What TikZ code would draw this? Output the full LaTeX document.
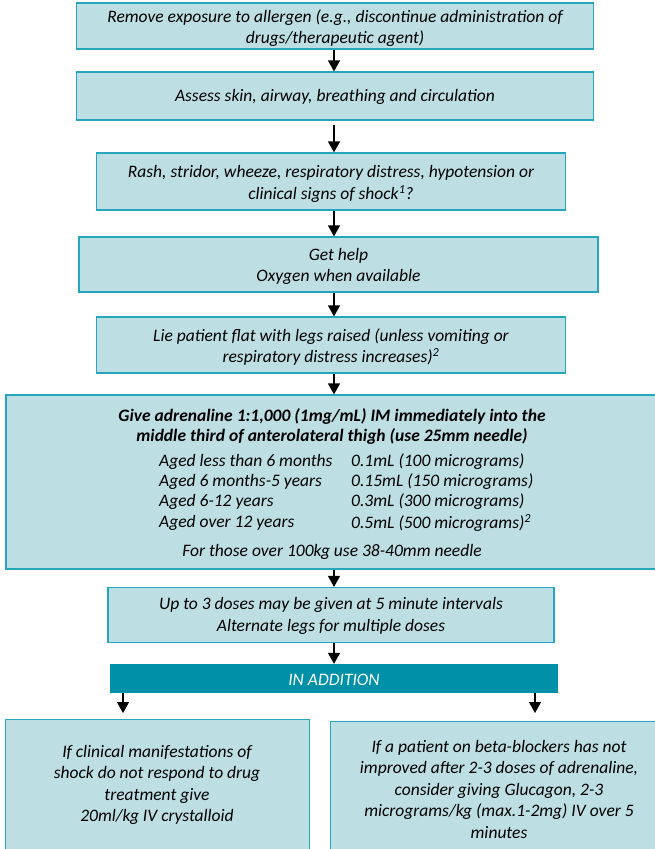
\documentclass[tikz,border=0pt]{standalone}
\usepackage{fontspec}
\setmainfont{Carlito}
\usetikzlibrary{arrows.meta,positioning,calc}
\definecolor{boxfill}{HTML}{BDDEE3}
\definecolor{boxline}{HTML}{25A6BD}
\definecolor{barfill}{HTML}{0090A8}
\tikzset{
  stepbox/.style={rectangle, draw=boxline, line width=1.2pt, fill=boxfill, inner sep=0pt},
  txt/.style={align=center, font=\fontsize{17.5}{21.5}\selectfont\itshape, inner sep=0pt},
  arr/.style={-{Triangle[width=12pt,length=11pt]}, line width=1.3pt, draw=black},
}
\begin{document}
\begin{tikzpicture}[x=1pt, y=-1pt]
\useasboundingbox (0,0) rectangle (655,849);
\coordinate (axis) at (334,0);
% main column
\node[stepbox, minimum width=517pt, minimum height=46pt] (b1) at (335,26) {};
\node[txt] at (335,28) {Remove exposure to allergen (e.g., discontinue administration of\\drugs/therapeutic agent)};
\node[stepbox, minimum width=517pt, minimum height=48pt] (b2) at (335,96) {};
\node[txt] at (335,97) {Assess skin, airway, breathing and circulation};
\node[stepbox, minimum width=469pt, minimum height=57pt] (b3) at (331,181.5) {};
\node[txt] at (331,184) {Rash, stridor, wheeze, respiratory distress, hypotension or\\clinical signs of shock\textsuperscript{1}?};
\node[stepbox, minimum width=519pt, minimum height=55pt] (b4) at (338.5,264.5) {};
\node[txt] at (338.5,266.5) {Get help\\Oxygen when available};
\node[stepbox, minimum width=469pt, minimum height=56pt] (b5) at (331,345) {};
\node[txt] at (331,347) {Lie patient flat with legs raised (unless vomiting or\\respiratory distress increases)\textsuperscript{2}};
% adrenaline box, runs past the right edge
\node[stepbox, minimum width=664pt, minimum height=174pt] (b6) at (338,482) {};
\node[txt, font=\fontsize{17.5}{20}\selectfont\bfseries\itshape] at (332,426) {Give adrenaline 1:1,000 (1mg/mL) IM immediately into the\\middle third of anterolateral thigh (use 25mm needle)};
\foreach \age/\dose/\yy in {Aged less than 6 months/0.1mL (100 micrograms)/462,
    Aged 6 months-5 years/0.15mL (150 micrograms)/482,
    Aged 6-12 years/0.3mL (300 micrograms)/502,
    Aged over 12 years/0.5mL (500 micrograms)\textsuperscript{2}/523}{
  \node[txt, anchor=west] at (159,\yy) {\age};
  \node[txt, anchor=west] at (351,\yy) {\dose};
}
\node[txt] at (332,552) {For those over 100kg use 38-40mm needle};
\node[stepbox, minimum width=446pt, minimum height=55pt] (b7) at (331,615) {};
\node[txt] at (331,616) {Up to 3 doses may be given at 5 minute intervals\\Alternate legs for multiple doses};
\node[rectangle, fill=barfill, minimum width=448pt, minimum height=29pt, inner sep=0pt] (addn) at (334,678.5) {};
\node[txt, text=white] at (334,680) {IN ADDITION};
% two branches
\node[stepbox, minimum width=304pt, minimum height=150pt, anchor=north west] (left) at (5,719) {};
\node[txt] at (157,785) {If clinical manifestations of\\shock do not respond to drug\\treatment give\\20ml/kg IV crystalloid};
\node[stepbox, minimum width=345pt, minimum height=150pt, anchor=north west] (right) at (330,721) {};
\node[txt] at (499,789) {If a patient on beta-blockers has not\\improved after 2-3 doses of adrenaline,\\consider giving Glucagon, 2-3\\micrograms/kg (max.1-2mg) IV over 5\\minutes};
\coordinate (lefttip) at (123,713);
\coordinate (righttip) at (535,713);
% arrows
\draw[arr] (b1.south -| axis) -- (b2.north -| axis);
\draw[arr, shorten <=4pt] (b2.south -| axis) -- (b3.north -| axis);
\draw[arr] (b3.south -| axis) -- (b4.north -| axis);
\draw[arr] (b4.south -| axis) -- (b5.north -| axis);
\draw[arr] (b5.south -| axis) -- (b6.north -| axis);
\draw[arr] (b6.south -| axis) -- (b7.north -| axis);
\draw[arr] (b7.south -| axis) -- (addn.north -| axis);
\draw[arr] (addn.south -| lefttip) -- (lefttip);
\draw[arr] (addn.south -| righttip) -- (righttip);
\end{tikzpicture}
\end{document}
